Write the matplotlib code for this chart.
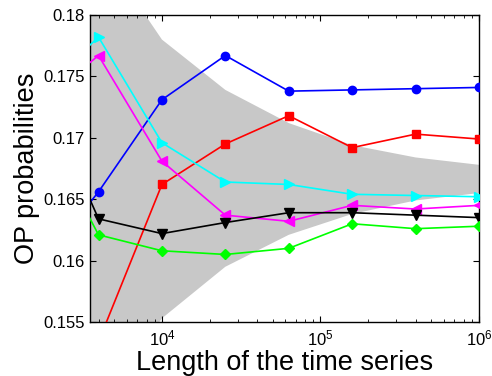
import numpy as np
import matplotlib
matplotlib.use("Agg")
import matplotlib.pyplot as plt

plt.rcParams['font.family'] = ['Liberation Sans', 'DejaVu Sans']
plt.rcParams['mathtext.fontset'] = 'custom'
plt.rcParams['mathtext.rm'] = 'Liberation Sans'

# series lengths (first one lies left of the visible window)
lengths = [1585, 3981, 10000, 25119, 63096, 158489, 398107, 1000000]

blue = [0.1591, 0.1656, 0.1731, 0.1767, 0.1738, 0.1739, 0.1740, 0.1741]
red = [0.1500, 0.1534, 0.1662, 0.1695, 0.1718, 0.1692, 0.1703, 0.1699]
cyan = [0.1734, 0.1782, 0.1696, 0.1664, 0.1662, 0.1654, 0.1653, 0.1652]
magenta = [0.1725, 0.1767, 0.1681, 0.1637, 0.1632, 0.1645, 0.1642, 0.1645]
black = [0.1751, 0.1634, 0.1622, 0.1631, 0.1639, 0.1639, 0.1637, 0.1635]
green = [0.1719, 0.1621, 0.1608, 0.1605, 0.1610, 0.1630, 0.1626, 0.1628]

# grey confidence band
band_hi = [0.1960, 0.1856, 0.1780, 0.1739, 0.1712, 0.1694, 0.1684, 0.1678]
band_lo = [0.1373, 0.1477, 0.1553, 0.1595, 0.1621, 0.1638, 0.1649, 0.1655]

fig = plt.figure(figsize=(4.92, 3.76), dpi=100)
ax = fig.add_axes([0.183, 0.1436, 0.7906, 0.8165])

ax.fill_between(lengths, band_lo, band_hi, color='#c8c8c8', linewidth=0, zorder=1)

styles = [
    (blue, '#0000ff', 'o', 6),
    (red, '#ff0000', 's', 5.5),
    (cyan, '#00ffff', '>', 6.5),
    (magenta, '#ff00ff', '<', 6.5),
    (black, '#000000', 'v', 6.5),
    (green, '#00ff00', 'D', 5.5),
]
for vals, col, mk, ms in styles:
    ax.plot(lengths, vals, color=col, marker=mk, markersize=ms,
            linewidth=1.2, zorder=3)

ax.set_xscale('log')
ax.set_xlim(3520, 1000000)
ax.set_ylim(0.155, 0.18)
ax.set_xticks([1e4, 1e5, 1e6])
ax.set_yticks([0.155, 0.16, 0.165, 0.17, 0.175, 0.18])
ax.set_yticklabels(['0.155', '0.16', '0.165', '0.17', '0.175', '0.18'])
ax.tick_params(which='both', direction='in', top=True, right=True, labelsize=12)
ax.tick_params(which='major', length=4, pad=4)
ax.tick_params(axis='x', which='major', pad=5)
ax.tick_params(which='minor', length=2)
for s in ax.spines.values():
    s.set_linewidth(1.0)

ax.set_xlabel('Length of the time series', fontsize=19.5, labelpad=0.5)
ax.set_ylabel('OP probabilities', fontsize=19.5, labelpad=2)

fig.savefig('out.png', dpi=100)
